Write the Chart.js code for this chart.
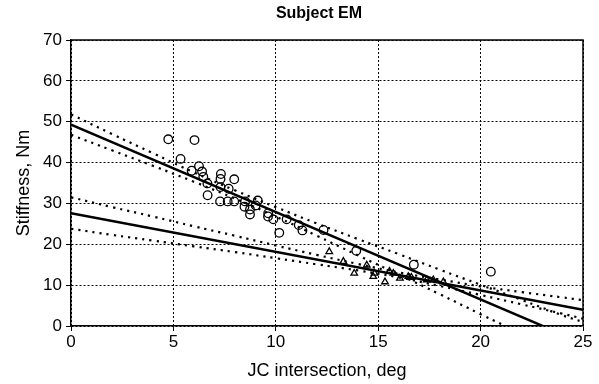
<!DOCTYPE html>
<html>
<head>
<meta charset="utf-8">
<title>Subject EM</title>
<script src="https://cdn.jsdelivr.net/npm/chart.js@4.4.1/dist/chart.umd.min.js"></script>
<style>
    html, body { margin: 0; padding: 0; background: #fff; }
    #wrap { width: 599px; height: 384px; }
</style>
</head>
<body>
<div id="wrap"><canvas id="stiffnessChart" width="599" height="384"></canvas></div>
<script>
// 圆圈数据点
const circleX = [4.75, 6.03, 5.35, 5.89, 6.25, 6.4, 6.46, 6.66, 6.67, 7.32, 7.3, 7.3, 7.97, 7.7,
    7.28, 7.65, 7.97, 8.5, 8.47, 8.74, 8.74, 9.02, 9.12, 9.63, 9.62, 9.88, 10.17, 10.53,
    11.12, 11.3, 12.33, 13.93, 16.74, 20.5];
const circleY = [45.7, 45.5, 40.9, 38.0, 39.1, 37.8, 36.5, 34.9, 32.0, 37.2, 36.0, 34.0, 35.9, 33.6,
    30.5, 30.5, 30.5, 30.5, 29.2, 28.5, 27.3, 29.5, 30.7, 27.6, 26.8, 26.1, 22.8, 26.1,
    24.7, 23.4, 23.5, 18.4, 15.0, 13.3];

// 三角形数据点
const triangleX = [12.61, 13.3, 13.83, 14.44, 14.76, 14.82, 15.33, 15.55, 15.74, 16.06, 16.47,
    16.62, 17.37, 17.69, 18.18];
const triangleY = [18.2, 15.8, 12.9, 14.9, 12.1, 12.9, 10.8, 13.4, 12.9, 11.7, 12.1,
    11.9, 11.3, 11.3, 10.8];

// 回归直线 (两端点)
const fitX = [0, 25];
const circleFitY = [49.3, -4.2];
const triangleFitY = [27.6, 4.0];

// 置信区间曲线
const bandX = [0, 2, 4, 6, 8, 10, 12, 14, 16, 18, 20, 22, 24, 25];
const circleUpper = [51.8, 47.0, 42.3, 37.6, 33.2, 29.1, 25.1, 21.3, 17.6, 13.8, 10.1, 6.4, 2.6, 1.0];
const circleLower = [46.8, 43.0, 39.2, 35.3, 31.2, 26.8, 22.1, 17.3, 12.6, 7.8, 2.9, -1.9, -6.8, -9.2];
const triangleUpper = [31.5, 29.1, 26.8, 24.4, 22.1, 19.7, 17.4, 15.2, 13.1, 11.4, 9.7, 8.3, 7.0, 6.3];
const triangleLower = [23.8, 22.3, 20.9, 19.5, 18.1, 16.6, 15.1, 13.6, 11.9, 9.8, 7.6, 5.3, 3.0, 1.8];

// 坐标轴刻度
const xTicks = [0, 5, 10, 15, 20, 25];
const yTicks = [0, 10, 20, 30, 40, 50, 60, 70];

const chartTitle = 'Subject EM';
const xTitle = 'JC intersection, deg';
const yTitle = 'Stiffness, Nm';

const FONT = "'Liberation Sans', Arial, Helvetica, sans-serif";

function toPoints(xs, ys) {
    return xs.map((x, i) => ({ x: x, y: ys[i] }));
}

function lineSet(xs, ys, dotted) {
    return {
        data: toPoints(xs, ys),
        showLine: true,
        borderColor: '#000',
        borderWidth: dotted ? 2.2 : 2.5,
        borderDash: dotted ? [2.2, 5] : [],
        tension: dotted ? 0.4 : 0,
        pointRadius: 0,
        fill: false
    };
}

/**
 * 绘制图框上边和右边, 以及标题
 */
const framePlugin = {
    id: 'framePlugin',
    beforeDatasetsDraw(chart) {
        const { ctx, chartArea: a } = chart;
        ctx.save();
        ctx.strokeStyle = '#000';
        ctx.lineWidth = 1.5;
        ctx.beginPath();
        ctx.moveTo(a.left, a.top);
        ctx.lineTo(a.right, a.top);
        ctx.lineTo(a.right, a.bottom);
        ctx.stroke();
        ctx.restore();
    },
    afterDraw(chart) {
        const ctx = chart.ctx;
        ctx.save();
        ctx.font = 'bold 16px ' + FONT;
        ctx.fillStyle = '#000';
        ctx.textAlign = 'center';
        ctx.textBaseline = 'middle';
        ctx.fillText(chartTitle, 319, 14);
        ctx.restore();
    }
};

const ctx = document.getElementById('stiffnessChart').getContext('2d');

new Chart(ctx, {
    type: 'scatter',
    data: {
        datasets: [
            {
                data: toPoints(circleX, circleY),
                pointStyle: 'circle',
                pointRadius: 4.3,
                borderWidth: 1.3,
                borderColor: '#000',
                backgroundColor: 'rgba(0,0,0,0)'
            },
            {
                data: toPoints(triangleX, triangleY),
                pointStyle: 'triangle',
                pointRadius: 3.8,
                borderWidth: 1.3,
                borderColor: '#000',
                backgroundColor: 'rgba(0,0,0,0)'
            },
            lineSet(fitX, circleFitY, false),
            lineSet(fitX, triangleFitY, false),
            lineSet(bandX, circleUpper, true),
            lineSet(bandX, circleLower, true),
            lineSet(bandX, triangleUpper, true),
            lineSet(bandX, triangleLower, true)
        ]
    },
    options: {
        responsive: false,
        animation: false,
        layout: {
            padding: { top: 40, right: 16, bottom: 0, left: 0 }
        },
        plugins: {
            legend: { display: false },
            tooltip: { enabled: false },
            title: { display: false }
        },
        scales: {
            x: {
                type: 'linear',
                min: 0,
                max: 25,
                afterBuildTicks: (axis) => { axis.ticks = xTicks.map(v => ({ value: v })); },
                afterFit: (axis) => { axis.height = 58; },
                ticks: {
                    color: '#000',
                    padding: 1,
                    maxRotation: 0,
                    font: { family: FONT, size: 17 }
                },
                grid: {
                    color: '#000',
                    lineWidth: 1,
                    tickLength: 5,
                    tickBorderDash: []
                },
                border: { color: '#000', width: 1.5, dash: [2, 2] },
                title: {
                    display: true,
                    text: xTitle,
                    color: '#000',
                    padding: { top: 0, bottom: 2 },
                    font: { family: FONT, size: 18 }
                }
            },
            y: {
                type: 'linear',
                min: 0,
                max: 70,
                afterBuildTicks: (axis) => { axis.ticks = yTicks.map(v => ({ value: v })); },
                afterFit: (axis) => { axis.width = 71; },
                ticks: {
                    color: '#000',
                    padding: 4,
                    font: { family: FONT, size: 17 }
                },
                grid: {
                    color: '#000',
                    lineWidth: 1,
                    tickLength: 5,
                    tickBorderDash: []
                },
                border: { color: '#000', width: 1.5, dash: [2, 2] },
                title: {
                    display: true,
                    text: yTitle,
                    color: '#000',
                    padding: { top: 13, bottom: 0 },
                    font: { family: FONT, size: 18 }
                }
            }
        }
    },
    plugins: [framePlugin]
});
</script>
</body>
</html>
